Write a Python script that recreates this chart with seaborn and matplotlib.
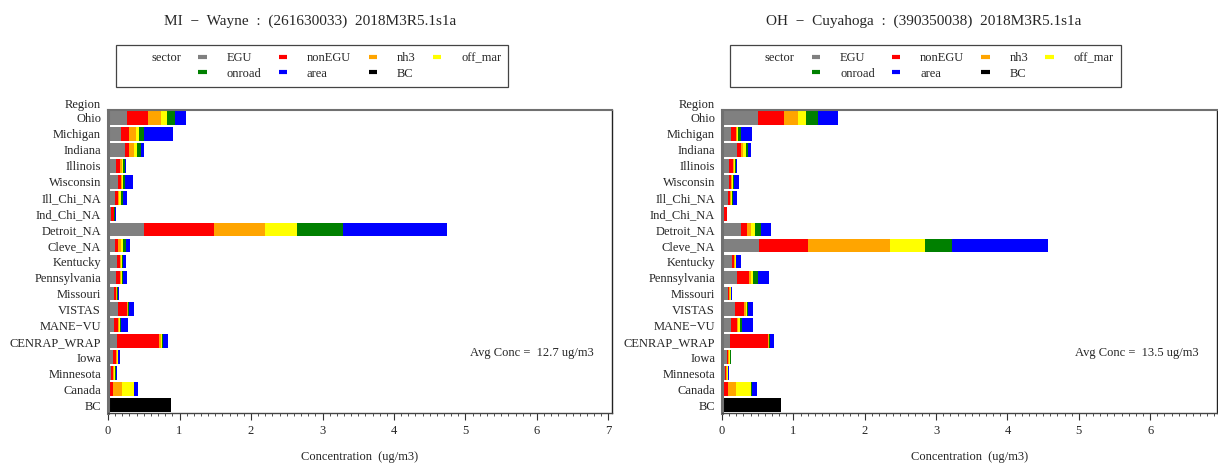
import pandas as pd
import matplotlib
matplotlib.use("Agg")
import matplotlib.pyplot as plt
import seaborn as sns
from matplotlib.lines import Line2D
from matplotlib.ticker import MultipleLocator

regions = ["Ohio", "Michigan", "Indiana", "Illinois", "Wisconsin", "Ill_Chi_NA",
           "Ind_Chi_NA", "Detroit_NA", "Cleve_NA", "Kentucky", "Pennsylvania",
           "Missouri", "VISTAS", "MANE\u2212VU", "CENRAP_WRAP", "Iowa", "Minnesota",
           "Canada", "BC"]
sectors = ["EGU", "nonEGU", "nh3", "off_mar", "onroad", "area", "BC"]
sector_colors = ["#808080", "#ff0000", "#ffa500", "#ffff00", "#008000", "#0000ff", "#000000"]

# MI - Wayne (left panel), ug/m3 per region
wayne_egu = [0.26, 0.18, 0.24, 0.11, 0.135, 0.10, 0.04, 0.51, 0.10, 0.13, 0.11,
             0.085, 0.145, 0.085, 0.12, 0.065, 0.047, 0.01, 0]
wayne_nonegu = [0.30, 0.11, 0.06, 0.06, 0.045, 0.04, 0.04, 0.97, 0.035, 0.04, 0.06,
                0.03, 0.115, 0.05, 0.59, 0.045, 0.028, 0.065, 0]
wayne_nh3 = [0.18, 0.10, 0.07, 0.02, 0.015, 0.015, 0.005, 0.72, 0.045, 0.01, 0.01,
             0.01, 0.015, 0.015, 0.03, 0.015, 0.01, 0.12, 0]
wayne_offmar = [0.08, 0.04, 0.04, 0.02, 0.015, 0.025, 0.005, 0.44, 0.03, 0.02, 0.015,
                0.005, 0.01, 0.015, 0.015, 0.01, 0.01, 0.165, 0]
wayne_onroad = [0.12, 0.08, 0.05, 0.03, 0.025, 0.025, 0.005, 0.65, 0.04, 0.01, 0.015,
                0.005, 0.015, 0.02, 0.01, 0.01, 0.01, 0.01, 0]
wayne_area = [0.15, 0.40, 0.04, 0.01, 0.11, 0.055, 0.01, 1.45, 0.06, 0.04, 0.05,
              0.02, 0.065, 0.09, 0.07, 0.02, 0.025, 0.055, 0]
wayne_bc = [0] * 18 + [0.88]

# OH - Cuyahoga (right panel)
cuya_egu = [0.50, 0.12, 0.21, 0.10, 0.10, 0.08, 0.025, 0.27, 0.52, 0.145, 0.205,
            0.08, 0.18, 0.12, 0.11, 0.065, 0.04, 0.01, 0]
cuya_nonegu = [0.37, 0.07, 0.06, 0.05, 0.03, 0.03, 0.04, 0.085, 0.69, 0.025, 0.175,
               0.02, 0.13, 0.09, 0.535, 0.025, 0.02, 0.07, 0]
cuya_nh3 = [0.19, 0.02, 0.03, 0.015, 0.01, 0.015, 0.002, 0.045, 1.14, 0.01, 0.025,
            0.01, 0.02, 0.02, 0.01, 0.01, 0.01, 0.11, 0]
cuya_offmar = [0.12, 0.02, 0.03, 0.015, 0.01, 0.015, 0.002, 0.06, 0.50, 0.01, 0.035,
               0.01, 0.02, 0.02, 0.01, 0.01, 0.01, 0.22, 0]
cuya_onroad = [0.16, 0.04, 0.04, 0.015, 0.02, 0.02, 0.002, 0.08, 0.37, 0.01, 0.06,
               0.01, 0.01, 0.03, 0.01, 0.01, 0.01, 0.01, 0]
cuya_area = [0.29, 0.15, 0.03, 0.02, 0.065, 0.045, 0.004, 0.15, 1.35, 0.07, 0.16,
             0.01, 0.08, 0.155, 0.055, 0.01, 0.01, 0.065, 0]
cuya_bc = [0] * 18 + [0.82]

sns.set_theme(style="white")
plt.rcParams["font.family"] = ["Liberation Serif", "DejaVu Serif"]
plt.rcParams["font.size"] = 9


def draw_panel(ax, values, title, avg_text, xmax, title_x, legend_w):
    df = pd.DataFrame(dict(zip(sectors, values)))
    cum = df[sectors].cumsum(axis=1)
    cum["region"] = regions
    # stacked: draw cumulative totals from the last sector back to the first
    for s, c in reversed(list(zip(sectors, sector_colors))):
        sns.barplot(data=cum, x=s, y="region", order=regions, color=c, saturation=1,
                    orient="h", width=0.86, errorbar=None, linewidth=0, ax=ax)

    ax.set_xlim(0, xmax)
    ax.xaxis.set_major_locator(MultipleLocator(1))
    ax.xaxis.set_minor_locator(MultipleLocator(0.1))
    ax.tick_params(axis="x", which="major", direction="out", length=5, width=0.8,
                   color="#333333", labelsize=9, bottom=True, pad=4)
    ax.tick_params(axis="x", which="minor", direction="out", length=2.5, width=0.6,
                   color="#333333", bottom=True)
    ax.tick_params(axis="y", length=0, pad=5, labelsize=9)

    ax.set_xlabel("Concentration  (ug/m3)", fontsize=9, labelpad=10)
    ax.set_ylabel("Region", rotation=0, ha="right", va="center", fontsize=9)
    ax.yaxis.set_label_coords(-0.014, 1.017)

    for side in ["top", "right", "bottom", "left"]:
        ax.spines[side].set_visible(True)
    ax.spines["left"].set_color("#707070")
    ax.spines["left"].set_linewidth(2.2)
    ax.spines["top"].set_color("#707070")
    ax.spines["top"].set_linewidth(1.5)
    ax.spines["right"].set_color("#222222")
    ax.spines["right"].set_linewidth(1)
    ax.spines["bottom"].set_color("#444444")
    ax.spines["bottom"].set_linewidth(1)

    ax.text(0.964, 0.198, avg_text, transform=ax.transAxes, ha="right", va="center",
            fontsize=9)
    ax.set_title(title, x=title_x, y=1.28, pad=0, fontsize=11)

    blank = Line2D([], [], color="none")
    mk = {s: Line2D([], [], color=c, lw=3, solid_capstyle="butt")
          for s, c in zip(sectors, sector_colors)}
    handles = [blank, blank, mk["EGU"], mk["onroad"], mk["nonEGU"], mk["area"],
               mk["nh3"], mk["BC"], mk["off_mar"], blank]
    labels = ["sector", "", "EGU", "onroad", "nonEGU", "area", "nh3", "BC", "off_mar", ""]
    leg = ax.legend(handles, labels, ncol=5, loc="upper left",
                    bbox_to_anchor=(0.016, 1.0825, legend_w, 0.132), mode="expand",
                    borderaxespad=0, fontsize=9, handlelength=0.65, handletextpad=1.6,
                    labelspacing=0.3, borderpad=0.55, fancybox=False, framealpha=1,
                    edgecolor="#444444")
    leg.get_frame().set_linewidth(0.9)


fig = plt.figure(figsize=(12.18, 4.63), dpi=100)
ax1 = fig.add_axes([0.0887, 0.108, 0.4138, 0.6544])
ax2 = fig.add_axes([0.5928, 0.108, 0.4060, 0.6544])

draw_panel(ax1, [wayne_egu, wayne_nonegu, wayne_nh3, wayne_offmar, wayne_onroad,
                 wayne_area, wayne_bc],
           "MI  \u2212  Wayne  :  (261630033)  2018M3R5.1s1a",
           "Avg Conc =  12.7 ug/m3", 7.05, 0.401, 0.778)
draw_panel(ax2, [cuya_egu, cuya_nonegu, cuya_nh3, cuya_offmar, cuya_onroad,
                 cuya_area, cuya_bc],
           "OH  \u2212  Cuyahoga  :  (390350038)  2018M3R5.1s1a",
           "Avg Conc =  13.5 ug/m3", 6.93, 0.408, 0.79)

fig.savefig("out.png", dpi=100)
